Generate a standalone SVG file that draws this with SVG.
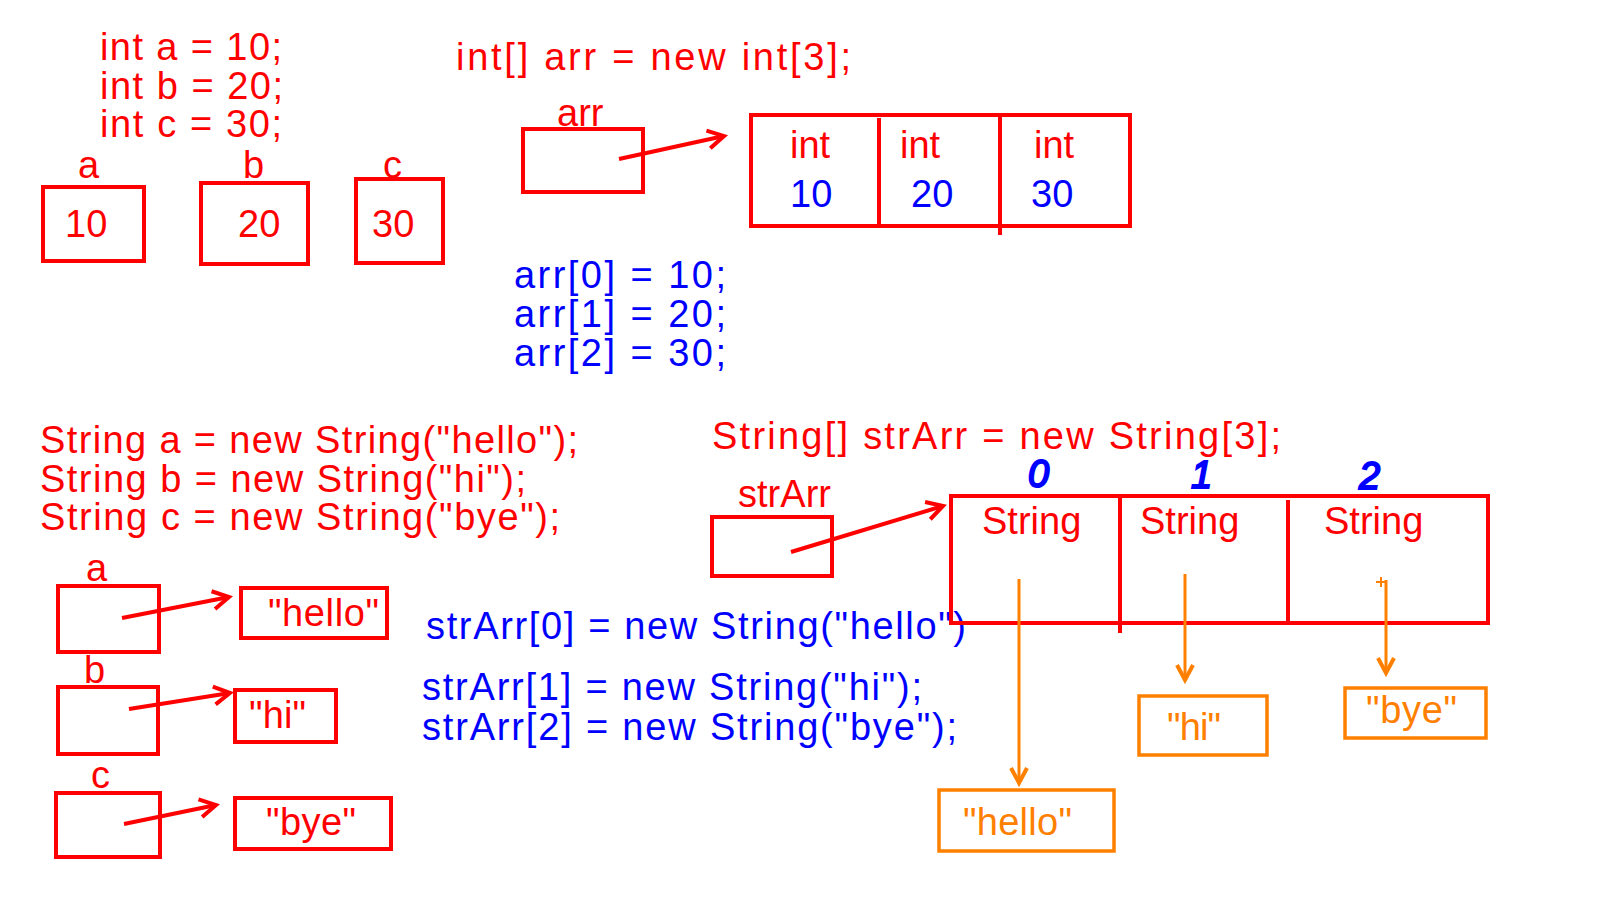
<svg xmlns="http://www.w3.org/2000/svg" width="1600" height="900" viewBox="0 0 1600 900">
<defs>
<style>
text{font-family:"Liberation Sans","DejaVu Sans",sans-serif;font-size:38px}
.r{fill:#ff0000}
.b{fill:#0000ff}
.o{fill:#ff8000}
.box{fill:none;stroke:#ff0000;stroke-width:4}
.obox{fill:none;stroke:#ff8000;stroke-width:3.5}
.ra{fill:none;stroke:#ff0000;stroke-width:4;marker-end:url(#ha)}
.oa{fill:none;stroke:#ff8000;stroke-width:3;marker-end:url(#hb)}
.hand{font-family:"Liberation Sans",sans-serif;font-style:italic;fill:#0000ff;stroke:#0000ff;stroke-width:2}
</style>
<marker id="ha" viewBox="-20 -12 24 24" markerWidth="24" markerHeight="24" refX="0" refY="0" orient="auto" markerUnits="userSpaceOnUse">
<path d="M-16,-9 L0,0 L-16,9" fill="none" stroke="#ff0000" stroke-width="4"/>
</marker>
<marker id="hb" viewBox="-20 -12 24 24" markerWidth="24" markerHeight="24" refX="0" refY="0" orient="auto" markerUnits="userSpaceOnUse">
<path d="M-15,-8 L0,0 L-15,8" fill="none" stroke="#ff8000" stroke-width="4"/>
</marker>
</defs>
<rect width="1600" height="900" fill="#ffffff"/>

<g id="code-int">
<text class="r" x="100" y="60" textLength="182" lengthAdjust="spacing">int a = 10;</text>
<text class="r" x="100" y="99" textLength="183" lengthAdjust="spacing">int b = 20;</text>
<text class="r" x="100" y="137" textLength="182" lengthAdjust="spacing">int c = 30;</text>
</g>

<g id="var-a">
<text class="r" x="78" y="178">a</text>
<rect class="box" x="43" y="187" width="101" height="74"/>
<text class="r" x="65" y="237">10</text>
</g>
<g id="var-b">
<text class="r" x="243" y="178">b</text>
<rect class="box" x="201" y="183" width="107" height="81"/>
<text class="r" x="238" y="237">20</text>
</g>
<g id="var-c">
<text class="r" x="383" y="178">c</text>
<rect class="box" x="356" y="179" width="87" height="84"/>
<text class="r" x="372" y="237">30</text>
</g>

<g id="code-intarr">
<text class="r" x="456" y="70" textLength="395" lengthAdjust="spacing">int[] arr = new int[3];</text>
</g>

<g id="var-arr">
<text class="r" x="557" y="126">arr</text>
<rect class="box" x="523" y="129" width="120" height="63"/>
</g>

<g id="int-array">
<rect class="box" x="751" y="115" width="379" height="111"/>
<line x1="879" y1="118" x2="879" y2="226" stroke="#ff0000" stroke-width="4"/>
<line x1="1000" y1="117" x2="1000" y2="235" stroke="#ff0000" stroke-width="4"/>
<text class="r" x="790" y="158">int</text>
<text class="r" x="900" y="158">int</text>
<text class="r" x="1034" y="158">int</text>
<text class="b" x="790" y="207">10</text>
<text class="b" x="911" y="207">20</text>
<text class="b" x="1031" y="207">30</text>
</g>

<g id="code-arr-assign">
<text class="b" x="514" y="288" textLength="212" lengthAdjust="spacing">arr[0] = 10;</text>
<text class="b" x="514" y="327" textLength="212" lengthAdjust="spacing">arr[1] = 20;</text>
<text class="b" x="514" y="366" textLength="212" lengthAdjust="spacing">arr[2] = 30;</text>
</g>

<g id="code-string">
<text class="r" x="40" y="453" textLength="538" lengthAdjust="spacing">String a = new String("hello");</text>
<text class="r" x="40" y="492" textLength="486" lengthAdjust="spacing">String b = new String("hi");</text>
<text class="r" x="40" y="530" textLength="520" lengthAdjust="spacing">String c = new String("bye");</text>
</g>

<g id="ref-a">
<text class="r" x="86" y="581">a</text>
<rect class="box" x="58" y="586" width="101" height="66"/>
</g>
<g id="str-hello">
<rect class="box" x="241" y="588" width="146" height="50"/>
<text class="r" x="268" y="626" textLength="111" lengthAdjust="spacing">"hello"</text>
</g>
<g id="ref-b">
<text class="r" x="84" y="683">b</text>
<rect class="box" x="58" y="687" width="100" height="67"/>
</g>
<g id="str-hi">
<rect class="box" x="235" y="690" width="101" height="52"/>
<text class="r" x="249" y="728" textLength="57" lengthAdjust="spacing">"hi"</text>
</g>
<g id="ref-c">
<text class="r" x="91" y="788">c</text>
<rect class="box" x="56" y="793" width="104" height="64"/>
</g>
<g id="str-bye">
<rect class="box" x="235" y="798" width="156" height="51"/>
<text class="r" x="266" y="835" textLength="90" lengthAdjust="spacing">"bye"</text>
</g>

<g id="code-strarr">
<text class="r" x="712" y="449" textLength="569" lengthAdjust="spacing">String[] strArr = new String[3];</text>
</g>

<g id="var-strArr">
<text class="r" x="738" y="507" textLength="93" lengthAdjust="spacing">strArr</text>
<rect class="box" x="712" y="517" width="120" height="59"/>
</g>

<g id="code-strarr-assign">
<text class="b" x="426" y="639" textLength="540" lengthAdjust="spacing">strArr[0] = new String("hello")</text>
<text class="b" x="422" y="700" textLength="500" lengthAdjust="spacing">strArr[1] = new String("hi");</text>
<text class="b" x="422" y="740" textLength="535" lengthAdjust="spacing">strArr[2] = new String("bye");</text>
</g>

<g id="string-array">
<rect class="box" x="951" y="496" width="537" height="127"/>
<line x1="1120" y1="496" x2="1120" y2="633" stroke="#ff0000" stroke-width="4"/>
<line x1="1288" y1="500" x2="1288" y2="625" stroke="#ff0000" stroke-width="4"/>
<text class="r" x="982" y="534">String</text>
<text class="r" x="1140" y="534">String</text>
<text class="r" x="1324" y="534">String</text>
<text class="hand" x="1028" y="487" font-size="20">0</text>
<text class="hand" x="1191" y="488" font-size="26" stroke-width="1">1</text>
<text class="hand" x="1359" y="489" font-size="33">2</text>
</g>

<g id="obj-hello">
<rect class="obox" x="939" y="790" width="175" height="61"/>
<text class="o" x="963" y="835" textLength="109" lengthAdjust="spacing">"hello"</text>
</g>
<g id="obj-hi">
<rect class="obox" x="1139" y="696" width="128" height="59"/>
<text class="o" x="1167" y="740" textLength="54" lengthAdjust="spacing">"hi"</text>
</g>
<g id="obj-bye">
<rect class="obox" x="1345" y="688" width="141" height="50"/>
<text class="o" x="1366" y="723" textLength="91" lengthAdjust="spacing">"bye"</text>
</g>

<g id="connectors">
<line class="ra" x1="619" y1="159" x2="724" y2="136"/>
<line class="ra" x1="122" y1="618" x2="229" y2="597"/>
<line class="ra" x1="129" y1="709" x2="230" y2="693"/>
<line class="ra" x1="124" y1="824" x2="216" y2="805"/>
<line class="ra" x1="791" y1="552" x2="943" y2="506"/>
<line class="oa" x1="1019" y1="579" x2="1019" y2="783"/>
<line class="oa" x1="1185" y1="574" x2="1185" y2="680"/>
<line class="oa" x1="1386" y1="580" x2="1386" y2="673"/>
<path d="M1376,582 H1386 M1381,577 V587" stroke="#ff8000" stroke-width="2" fill="none"/>
</g>
</svg>
